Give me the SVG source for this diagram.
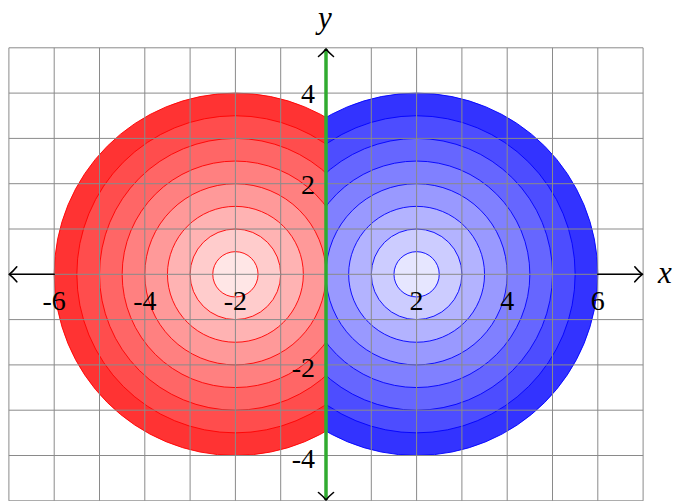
<svg xmlns="http://www.w3.org/2000/svg" width="678" height="501" viewBox="0 0 678 501">
  <defs>
    <clipPath id="leftHalf"><rect x="0" y="0" width="326" height="501"/></clipPath>
    <clipPath id="rightHalf"><rect x="326" y="0" width="352" height="501"/></clipPath>
  </defs>
  <style>
    .rring { stroke: #ff0000; stroke-width: 0.9; }
    .bring { stroke: #0000ff; stroke-width: 0.9; }
    .grid { fill: none; stroke: #8a8a8a; stroke-width: 1; }
    .axis { fill: none; stroke: #000000; stroke-width: 1.6; stroke-linecap: round; stroke-linejoin: round; }
    .tick { font-family: "Liberation Serif", "DejaVu Serif", serif; font-size: 28px; fill: #000000; }
    .lab { font-family: "Liberation Serif", "DejaVu Serif", serif; font-style: italic; font-size: 31px; fill: #000000; }
  </style>
  <rect x="0" y="0" width="678" height="501" fill="#ffffff"/>

  <g id="red-disc" clip-path="url(#leftHalf)">
    <circle class="rring" cx="235.4" cy="274.3" r="181.2" fill="#ff3333"/>
    <circle class="rring" cx="235.4" cy="274.3" r="158.55" fill="#ff4d4d"/>
    <circle class="rring" cx="235.4" cy="274.3" r="135.9" fill="#ff6666"/>
    <circle class="rring" cx="235.4" cy="274.3" r="113.25" fill="#ff8080"/>
    <circle class="rring" cx="235.4" cy="274.3" r="90.6" fill="#ff9999"/>
    <circle class="rring" cx="235.4" cy="274.3" r="67.95" fill="#ffb3b3"/>
    <circle class="rring" cx="235.4" cy="274.3" r="45.3" fill="#ffcccc"/>
    <circle class="rring" cx="235.4" cy="274.3" r="22.65" fill="#ffe6e6"/>
  </g>

  <g id="blue-disc" clip-path="url(#rightHalf)">
    <circle class="bring" cx="416.6" cy="274.3" r="181.2" fill="#3333ff"/>
    <circle class="bring" cx="416.6" cy="274.3" r="158.55" fill="#4d4dff"/>
    <circle class="bring" cx="416.6" cy="274.3" r="135.9" fill="#6666ff"/>
    <circle class="bring" cx="416.6" cy="274.3" r="113.25" fill="#8080ff"/>
    <circle class="bring" cx="416.6" cy="274.3" r="90.6" fill="#9999ff"/>
    <circle class="bring" cx="416.6" cy="274.3" r="67.95" fill="#b3b3ff"/>
    <circle class="bring" cx="416.6" cy="274.3" r="45.3" fill="#ccccff"/>
    <circle class="bring" cx="416.6" cy="274.3" r="22.65" fill="#e6e6ff"/>
  </g>

  <g id="grid">
    <path class="grid" d="M8.9,47.8V500.8 M54.2,47.8V500.8 M99.5,47.8V500.8 M144.8,47.8V500.8 M190.1,47.8V500.8 M235.4,47.8V500.8 M280.7,47.8V500.8 M326,47.8V500.8 M371.3,47.8V500.8 M416.6,47.8V500.8 M461.9,47.8V500.8 M507.2,47.8V500.8 M552.5,47.8V500.8 M597.8,47.8V500.8 M643.1,47.8V500.8
      M8.9,47.8H643.1 M8.9,93.1H643.1 M8.9,138.4H643.1 M8.9,183.7H643.1 M8.9,229H643.1 M8.9,274.3H643.1 M8.9,319.6H643.1 M8.9,364.9H643.1 M8.9,410.2H643.1 M8.9,455.5H643.1 M8.9,500.8H643.1"/>
  </g>

  <g id="connectors">
    <g id="x-axis">
      <path class="axis" d="M9.5,274.3H54.2 M597.8,274.3H642.5"/>
      <path class="axis" d="M16.8,266.8 Q13,271.5 9.3,274.3 Q13,277.1 16.8,281.8"/>
      <path class="axis" d="M634.8,266.8 Q638.6,271.5 642.3,274.3 Q638.6,277.1 634.8,281.8"/>
    </g>
    <g id="y-axis">
      <line x1="326" y1="49" x2="326" y2="500" stroke="#30ab30" stroke-width="3.5"/>
      <path class="axis" d="M318.5,56.5 Q323.2,52.7 326,49 Q328.8,52.7 333.5,56.5"/>
      <path class="axis" d="M318.5,492.5 Q323.2,496.3 326,500 Q328.8,496.3 333.5,492.5"/>
    </g>
  </g>

  <g id="x-ticks" class="tick" text-anchor="middle">
    <text x="54.2" y="310">-6</text>
    <text x="144.8" y="310">-4</text>
    <text x="235.4" y="310">-2</text>
    <text x="416.6" y="310">2</text>
    <text x="507.2" y="310">4</text>
    <text x="597.8" y="310">6</text>
  </g>
  <g id="y-ticks" class="tick" text-anchor="end">
    <text x="315" y="103">4</text>
    <text x="315" y="194">2</text>
    <text x="315" y="377">-2</text>
    <text x="315" y="468">-4</text>
  </g>
  <g id="axis-labels" class="lab">
    <text x="658" y="283">x</text>
    <text x="325" y="28" text-anchor="middle">y</text>
  </g>
</svg>
